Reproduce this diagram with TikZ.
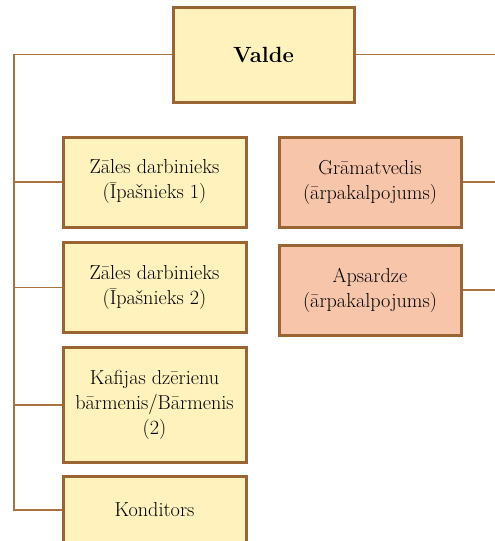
\documentclass[tikz,border=0pt]{standalone}
\usetikzlibrary{positioning}

\definecolor{boxline}{HTML}{9A6533}
\definecolor{wire}{HTML}{A8733F}
\definecolor{staffyellow}{HTML}{FFF2BD}
\definecolor{outsalmon}{HTML}{F6C5AA}

\tikzset{
  post/.style={draw=boxline, line width=3pt, fill=staffyellow, align=center,
    minimum width=183pt, minimum height=90pt, inner sep=2pt,
    font=\fontsize{20.2}{25}\selectfont},
  outside/.style={post, fill=outsalmon, minimum width=182pt},
  link/.style={draw=wire, line width=1.4pt}
}

\begin{document}
\begin{tikzpicture}[x=1pt, y=1pt, node distance=105pt, on grid]
   \useasboundingbox (0,0) rectangle (495,-541);
   \begin{scope}
   \clip (0,0) rectangle (495,-541);
   \node[post, minimum width=181pt, minimum height=95pt,
         font=\fontsize{22}{28}\selectfont\bfseries] (valde) at (263.5,-54.5) {Valde};

   \node[post, below left=127.5pt and 109pt of valde] (zale1) {Zāles darbinieks\\(Īpašnieks 1)};
   \node[post, below=105.5pt of zale1] (zale2) {Zāles darbinieks\\(Īpašnieks 2)};
   \node[post, minimum height=115pt, below=117.5pt of zale2] (barm) {Kafijas dzērienu\\bārmenis/Bārmenis\\(2)};
   \node[post, minimum height=67pt, below=105pt of barm] (kond) {Konditors};

   \node[outside, right=215.5pt of zale1] (gram) {Grāmatvedis\\(ārpakalpojums)};
   \node[outside, below=108pt of gram] (apsa) {Apsardze\\(ārpakalpojums)};

   \coordinate (rail) at (14,0);
   \coordinate (edge) at (495,0);

    % left rail
    \draw[link] (valde.west) -- (valde.west -| rail) |- (kond.west);
    \foreach \n in {zale1, zale2, barm}
      \draw[link] (\n.west -| rail) -- (\n.west);

    % right side
    \draw[link] (valde.east) -- (valde.east -| edge);
    \draw[link] (gram.east) -- (gram.east -| edge);
    \draw[link] (apsa.east) -- (apsa.east -| edge);
   \end{scope}
\end{tikzpicture}
\end{document}
